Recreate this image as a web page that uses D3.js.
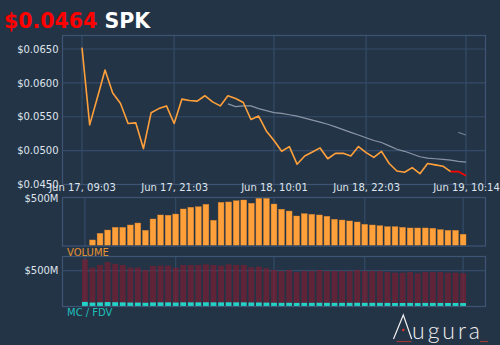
<!DOCTYPE html>
<html><head><meta charset="utf-8">
<script src="https://cdn.jsdelivr.net/npm/d3@7"></script>
<style>html,body{margin:0;padding:0;background:#243447;}svg{display:block;}</style>
</head><body>
<script>
// ---- data ----
const tickIndex = [0, 12, 25, 37, 50];
const tickLabels = ["Jun 17, 09:03", "Jun 17, 21:03", "Jun 18, 10:01", "Jun 18, 22:03", "Jun 19, 10:14"];
const priceTicks = [0.045, 0.050, 0.055, 0.060, 0.065];
const price = [0.0652,0.0538,0.0578,0.0619,0.0585,0.0570,0.0540,0.0541,0.0503,0.0556,
  0.0562,0.0566,0.0540,0.0576,0.0574,0.0573,0.0581,0.0572,0.0566,0.0581,
  0.0577,0.0571,0.0546,0.0551,0.0529,0.0515,0.0499,0.0506,0.0480,0.0492,
  0.0498,0.0504,0.0488,0.0496,0.0496,0.0492,0.0506,0.0497,0.0490,0.0499,
  0.0481,0.0470,0.0468,0.0475,0.0466,0.0481,0.0479,0.0477,0.0469,0.0469,0.0463];
const avgLine = [null,null,null,null,null,null,null,null,null,null,
  null,null,null,null,null,null,null,null,null,0.0569,
  0.0565,0.0566,0.0566,0.0562,0.0559,0.0556,0.0555,0.0553,0.0551,0.0548,
  0.0545,0.0542,0.0539,0.0535,0.0531,0.0527,0.0523,0.0519,0.0515,0.0512,
  0.0507,0.0502,0.0499,0.0495,0.0491,0.0489,0.0488,0.0487,0.0486,0.0484,0.0483];
const avgLine2 = [null,null,null,null,null,null,null,null,null,null,
  null,null,null,null,null,null,null,null,null,null,
  null,null,null,null,null,null,null,null,null,null,
  null,null,null,null,null,null,null,null,null,null,
  null,null,null,null,null,null,null,null,null,0.0527,0.0523];
const volumeM = [0,57,128,163,192,192,217,238,160,281,
  324,321,334,388,406,412,438,267,459,463,
  476,484,449,502,502,441,385,366,313,338,
  331,324,310,278,270,260,249,224,217,209,
  199,199,192,185,185,185,182,167,160,160,118];
const fdvM = [659,542,580,622,594,580,542,542,510,566,
  570,570,542,580,580,580,589,580,570,589,
  580,580,547,556,534,510,496,510,482,496,
  496,510,496,496,496,496,510,496,496,496,
  482,472,472,482,464,482,482,482,472,472,464];
const mcM = [64,55,58,62,60,58,55,55,52,57,
  58,58,55,58,58,58,59,58,58,59,
  58,58,56,56,54,52,51,52,50,51,
  51,52,51,51,51,51,52,51,51,51,
  50,49,49,50,48,50,50,50,49,49,48];
const volTicks = [500];
const mcTicks = [500];
const lastPrice = "$0.0464";
const symbol = "SPK";

// ---- drawing ----
const W = 500, H = 345;
const bg = "#243447", frameC = "#3d5573", gridC = "#334b68", textC = "#dfe5ec";
const orange = "#ffa03a", font = "DejaVu Sans, sans-serif";
const svg = d3.select("body").append("svg").attr("width", W).attr("height", H);
svg.append("rect").attr("width", W).attr("height", H).attr("fill", bg);

const L = 62.5, R = 485.5;
const idx = d3.range(price.length);
const x = d3.scaleLinear().domain([0, price.length - 1]).range([82, 466]);
const y = d3.scaleLinear().domain([0.045, 0.065]).range([184.5, 49]);

// title
const t = svg.append("text").attr("x", 4).attr("y", 27.5).attr("font-family", font)
  .attr("font-weight", "bold").attr("font-size", 20.5);
t.append("tspan").attr("fill", "#ff0000").text(lastPrice);
t.append("tspan").attr("fill", "#ffffff").attr("dx", 7).text(symbol);

// main frame + grid
const main = svg.append("g");
main.selectAll(".hg").data(priceTicks).join("line")
  .attr("x1", L).attr("x2", R).attr("y1", d => y(d)).attr("y2", d => y(d))
  .attr("stroke", gridC).attr("stroke-width", 1.2);
main.selectAll(".vg").data(tickIndex).join("line")
  .attr("x1", d => x(d)).attr("x2", d => x(d)).attr("y1", 35.5).attr("y2", 184.5)
  .attr("stroke", gridC).attr("stroke-width", 1.2);
main.append("rect").attr("x", L).attr("y", 35.5).attr("width", R - L).attr("height", 149)
  .attr("fill", "none").attr("stroke", frameC).attr("stroke-width", 1.2);

const yAxis = d3.axisLeft(y).tickValues(priceTicks).tickFormat(d => "$" + d3.format(".4f")(d)).tickSize(0).tickPadding(4);
const ya = svg.append("g").attr("transform", `translate(${L},0)`).call(yAxis);
ya.select(".domain").remove();
ya.selectAll("text").attr("fill", textC).attr("font-family", font).attr("font-size", 10);

// lines
const line = d3.line().defined(d => d[1] != null).x(d => x(d[0])).y(d => y(d[1]));
main.append("path").datum(avgLine.map((v, i) => [i, v])).attr("d", line)
  .attr("fill", "none").attr("stroke", "#8a96a6").attr("stroke-width", 1.2);
main.append("path").datum(avgLine2.map((v, i) => [i, v])).attr("d", line)
  .attr("fill", "none").attr("stroke", "#6f7e92").attr("stroke-width", 1.2);
const nOr = price.length - 2;
main.append("path").datum(price.map((v, i) => [i, v]).slice(0, nOr)).attr("d", line)
  .attr("fill", "none").attr("stroke", orange).attr("stroke-width", 1.6).attr("stroke-linejoin", "round");
main.append("path").datum(price.map((v, i) => [i, v]).slice(nOr - 1)).attr("d", line)
  .attr("fill", "none").attr("stroke", "#ff0000").attr("stroke-width", 1.6);

// x tick labels
const xAxis = d3.axisBottom(x).tickValues(tickIndex).tickFormat((d, i) => tickLabels[i]).tickSize(0).tickPadding(0);
const xa = svg.append("g").attr("transform", "translate(0,184)").call(xAxis);
xa.select(".domain").remove();
xa.selectAll("text").attr("fill", textC).attr("font-family", font).attr("font-size", 10).attr("dy", "0.71em");

// band scale for bars
const xb = d3.scaleBand().domain(idx).range([82, 466]).paddingInner(0.23).paddingOuter(0).align(0);

// volume panel
const vTop = 197.5, vBot = 246;
const yv = d3.scaleLinear().domain([0, 500]).range([245.3, 198.5]);
const vol = svg.append("g");
vol.selectAll("line").data(tickIndex).join("line")
  .attr("x1", d => xb(d) + xb.bandwidth() / 2).attr("x2", d => xb(d) + xb.bandwidth() / 2)
  .attr("y1", vTop).attr("y2", vBot).attr("stroke", gridC).attr("stroke-width", 1.2);
vol.selectAll("rect.b").data(volumeM.map((v, i) => [i, v]).filter(d => d[1] > 0)).join("rect")
  .attr("x", d => xb(d[0])).attr("width", xb.bandwidth())
  .attr("y", d => yv(d[1])).attr("height", d => yv(0) - yv(d[1]))
  .attr("fill", orange).attr("stroke", "#d4842f").attr("stroke-width", 0.4);
vol.append("rect").attr("x", L).attr("y", vTop).attr("width", R - L).attr("height", vBot - vTop)
  .attr("fill", "none").attr("stroke", frameC).attr("stroke-width", 1.2);
const va = svg.append("g").attr("transform", `translate(${L},0)`)
  .call(d3.axisLeft(yv).tickValues(volTicks).tickFormat(d => "$" + d + "M").tickSize(0).tickPadding(4));
va.select(".domain").remove();
va.selectAll("text").attr("fill", textC).attr("font-family", font).attr("font-size", 10);
svg.append("text").attr("x", 67).attr("y", 255.5).attr("fill", "#e89331")
  .attr("font-family", font).attr("font-size", 10).text("VOLUME");

// MC / FDV panel
const mTop = 256.5, mBot = 306.5;
const ym = d3.scaleLinear().domain([0, 500]).range([306.5, 270.7]);
const mc = svg.append("g");
mc.selectAll("line.h").data(mcTicks).join("line")
  .attr("x1", L).attr("x2", R).attr("y1", d => ym(d)).attr("y2", d => ym(d))
  .attr("stroke", gridC).attr("stroke-width", 1.2);
mc.selectAll("line.v").data(tickIndex).join("line")
  .attr("x1", d => xb(d) + xb.bandwidth() / 2).attr("x2", d => xb(d) + xb.bandwidth() / 2)
  .attr("y1", mTop).attr("y2", mBot).attr("stroke", gridC).attr("stroke-width", 1.2);
mc.selectAll("rect.f").data(fdvM.map((v, i) => [i, v])).join("rect")
  .attr("x", d => xb(d[0])).attr("width", xb.bandwidth())
  .attr("y", d => ym(d[1])).attr("height", d => ym(0) - ym(d[1]))
  .attr("fill", "#7a1e32").attr("fill-opacity", 0.7);
mc.selectAll("rect.m").data(mcM.map((v, i) => [i, v])).join("rect")
  .attr("x", d => xb(d[0])).attr("width", xb.bandwidth())
  .attr("y", d => ym(d[1])).attr("height", d => ym(0) - ym(d[1]))
  .attr("fill", "#22d3c8");
mc.append("rect").attr("x", L).attr("y", mTop).attr("width", R - L).attr("height", mBot - mTop)
  .attr("fill", "none").attr("stroke", frameC).attr("stroke-width", 1.2);
const ma = svg.append("g").attr("transform", `translate(${L},0)`)
  .call(d3.axisLeft(ym).tickValues(mcTicks).tickFormat(d => "$" + d + "M").tickSize(0).tickPadding(4));
ma.select(".domain").remove();
ma.selectAll("text").attr("fill", textC).attr("font-family", font).attr("font-size", 10);
svg.append("text").attr("x", 67).attr("y", 316).attr("fill", "#1fbfb8")
  .attr("font-family", font).attr("font-size", 10).text("MC / FDV");

// logo
const logo = svg.append("g");
logo.append("path").attr("d", "M393.5,339 L403.3,315 L411.7,339").attr("fill", "none")
  .attr("stroke", "#f0f0f0").attr("stroke-width", 1.2);
logo.append("circle").attr("cx", 403.3).attr("cy", 330).attr("r", 1.3).attr("fill", "#e0302a");
logo.append("text").attr("x", 412).attr("y", 339).attr("fill", "#f0f0f0")
  .attr("font-family", "Lato, sans-serif").attr("font-weight", 300).attr("font-size", 23)
  .attr("textLength", 68).attr("lengthAdjust", "spacing").text("ugura");
logo.append("line").attr("x1", 396.5).attr("x2", 411.5).attr("y1", 341.5).attr("y2", 341.5)
  .attr("stroke", "#9a3a36").attr("stroke-width", 1.2);
logo.append("line").attr("x1", 480).attr("x2", 488).attr("y1", 341.5).attr("y2", 341.5)
  .attr("stroke", "#9a3a36").attr("stroke-width", 1.2);
</script>
</body></html>
